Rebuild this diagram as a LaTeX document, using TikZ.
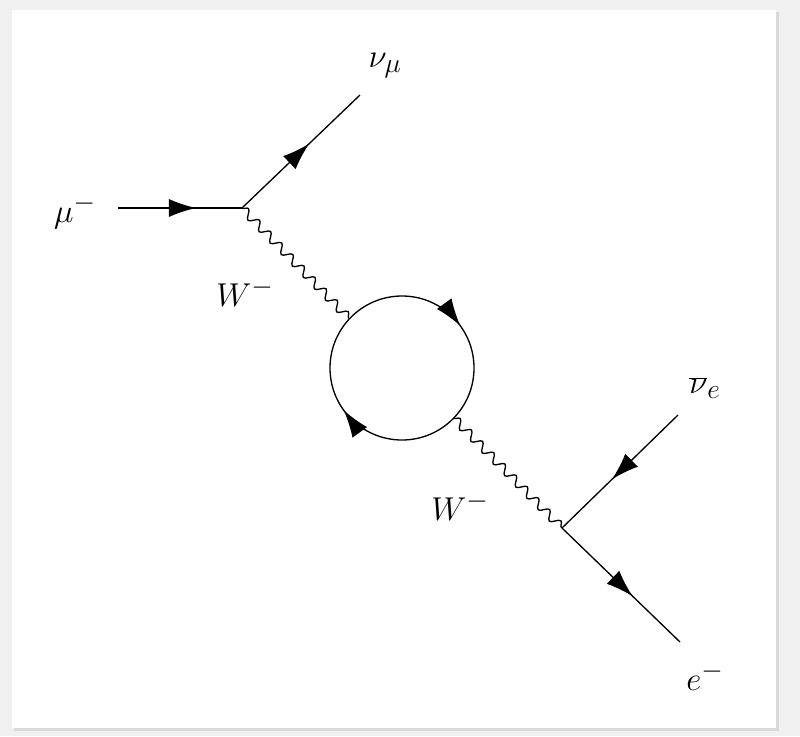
\documentclass[tikz,border=0pt]{standalone}
\usetikzlibrary{decorations.pathmorphing,decorations.markings,arrows.meta,calc}
\begin{document}
\begin{tikzpicture}[x=0.02646cm,y=-0.02646cm,
  lbl/.style={font=\fontsize{30}{34}\selectfont},
  fermion/.style={line width=1pt,postaction={decorate},decoration={markings,mark=at position #1 with {\arrow{Latex[length=7.2mm,width=4.8mm]}}}},
  boson/.style={line width=1pt,decorate,decoration={snake,amplitude=3.2pt,segment length=12pt}}]
\useasboundingbox (0,0) rectangle (800,736);
\fill[gray!12] (0,0) rectangle (800,736);
\fill[gray!30] (14,12) rectangle (779,731);
\fill[white] (12,10) rectangle (776,728);
\coordinate (m0) at (118,208);
\coordinate (A) at (242,208);
\coordinate (nm) at (360,95);
\coordinate (C) at (402,368);
\coordinate (L1) at ($(C)+(-137:72)$);
\coordinate (L2) at ($(C)+(44:72)$);
\coordinate (B) at (562,528);
\coordinate (ne) at (678,415);
\coordinate (e) at (680,642);
\node[lbl] (lmu) at (75,212) {$\mu^-$};
\node[lbl] (lnm) at (385,66) {$\nu_\mu$};
\node[lbl] (lW1) at (245,292) {$W^-$};
\node[lbl] (lW2) at (460,506) {$W^-$};
\node[lbl] (lne) at (705,388) {$\overline{\nu}_e$};
\node[lbl] (le) at (705,676) {$e^-$};
\draw[fermion=0.63] (m0) -- (A);
\draw[fermion=0.57] (A) -- (nm);
\draw[fermion=0.57] (ne) -- (B);
\draw[fermion=0.6] (B) -- (e);
\draw[boson] (A) -- (L1);
\draw[boson] (L2) -- (B);
\draw[line width=1pt,postaction={decorate},decoration={markings,
  mark=at position 0.40 with {\arrow{Latex[length=7.2mm,width=4.8mm]}},
  mark=at position 0.90 with {\arrow{Latex[length=7.2mm,width=4.8mm]}}}]
  ($(C)+(-72,0)$) arc[start angle=180,end angle=540,radius=72];
\end{tikzpicture}
\end{document}
